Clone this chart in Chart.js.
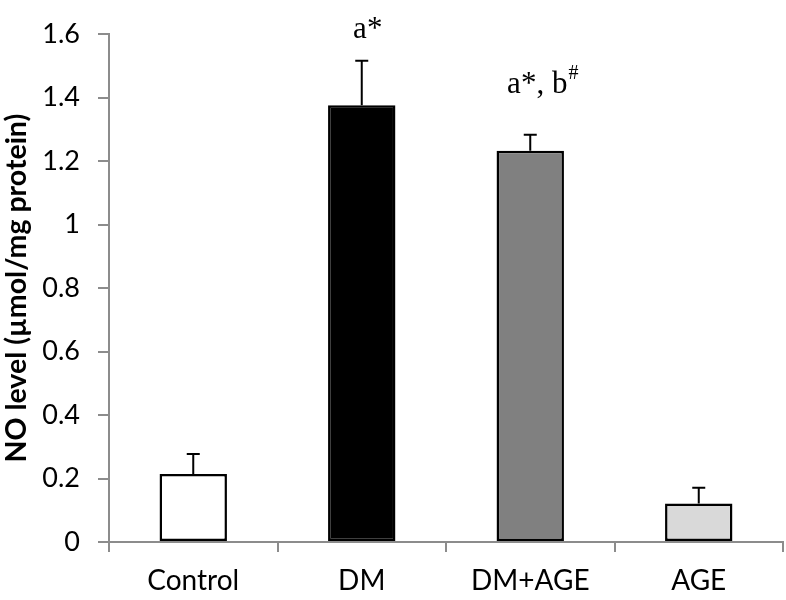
<!DOCTYPE html>
<html lang="en">
<head>
<meta charset="UTF-8" />
<title>NO level</title>
<script src="https://cdn.jsdelivr.net/npm/chart.js@4"></script>
<style>
  body { margin: 0; background: #fff; }
  canvas { display: block; }
</style>
</head>
<body>
<canvas id="chart" width="786" height="600"></canvas>
<script>
// data
const groups = ["Control", "DM", "DM+AGE", "AGE"];
const noLevel = [0.214, 1.376, 1.233, 0.121];
const noError = [0.063, 0.140, 0.050, 0.050];
const barColors = ["#ffffff", "#000000", "#808080", "#d9d9d9"];
const sigMain = ["", "a*", "a*, b", ""];
const sigSup = ["", "", "#", ""];
const yTicks = [0, 0.2, 0.4, 0.6, 0.8, 1, 1.2, 1.4, 1.6];

const axisGray = "#8c8c8c";
const sans = "Lato";

// error bars (upward only) drawn from the y scale
const errorBars = {
  id: "errorBars",
  afterDatasetsDraw(chart) {
    const ctx = chart.ctx;
    const y = chart.scales.y;
    const meta = chart.getDatasetMeta(0);
    ctx.save();
    ctx.strokeStyle = "#000";
    ctx.lineWidth = 2;
    meta.data.forEach((bar, i) => {
      const top = y.getPixelForValue(noLevel[i] + noError[i]);
      const base = y.getPixelForValue(noLevel[i]);
      ctx.beginPath();
      ctx.moveTo(bar.x, base);
      ctx.lineTo(bar.x, top);
      ctx.moveTo(bar.x - 6.5, top);
      ctx.lineTo(bar.x + 6.5, top);
      ctx.stroke();
    });
    ctx.restore();
  }
};

// significance letters above the error bars
const sigLabels = {
  id: "sigLabels",
  afterDatasetsDraw(chart, args, opts) {
    const ctx = chart.ctx;
    const y = chart.scales.y;
    const meta = chart.getDatasetMeta(0);
    ctx.save();
    ctx.fillStyle = "#000";
    ctx.textBaseline = "alphabetic";
    meta.data.forEach((bar, i) => {
      if (!sigMain[i]) return;
      ctx.font = "31px 'Liberation Serif', serif";
      const w1 = ctx.measureText(sigMain[i]).width;
      ctx.font = "20px 'Liberation Serif', serif";
      const w2 = sigSup[i] ? ctx.measureText(sigSup[i]).width : 0;
      const top = y.getPixelForValue(noLevel[i] + noError[i]);
      const baseY = top - opts.dy[i];
      const x0 = bar.x + opts.dx[i] - (w1 + w2) / 2;
      ctx.font = "31px 'Liberation Serif', serif";
      ctx.fillText(sigMain[i], x0, baseY);
      if (sigSup[i]) {
        ctx.font = "20px 'Liberation Serif', serif";
        ctx.fillText(sigSup[i], x0 + w1 + 1, baseY - 14);
      }
    });
    ctx.restore();
  }
};

new Chart(document.getElementById("chart"), {
  type: "bar",
  data: {
    labels: groups,
    datasets: [{
      data: noLevel,
      backgroundColor: barColors,
      borderColor: "#000",
      borderWidth: 2.5,
      borderSkipped: false,
      categoryPercentage: 1,
      barPercentage: 0.4
    }]
  },
  options: {
    responsive: false,
    animation: false,
    devicePixelRatio: 1,
    layout: { padding: { top: 26, right: 3, left: 0, bottom: 0 } },
    plugins: {
      legend: { display: false },
      tooltip: { enabled: false },
      sigLabels: { dx: [0, 6, 12, 0], dy: [0, 23, 42, 0] }
    },
    scales: {
      x: {
        grid: { offset: true, drawOnChartArea: false, tickLength: 10, color: axisGray, lineWidth: 2 },
        border: { color: axisGray, width: 2 },
        ticks: { color: "#000", font: { family: sans, size: 28 }, padding: 12 },
        afterFit(s) { s.height = 58; }
      },
      y: {
        min: 0,
        max: 1.6,
        afterBuildTicks(s) { s.ticks = yTicks.map(v => ({ value: v })); },
        grid: { drawOnChartArea: false, tickLength: 11, color: axisGray, lineWidth: 2 },
        border: { color: axisGray, width: 2 },
        ticks: {
          color: "#000",
          font: { family: sans, size: 27 },
          padding: 18,
          callback: v => String(Number(v.toFixed(1)))
        },
        title: {
          display: true,
          text: "NO level (µmol/mg protein)",
          color: "#000",
          font: { family: sans, size: 28.5, weight: "bold" },
          padding: { top: 0, bottom: 0 }
        },
        afterFit(s) { s.width = 109; }
      }
    }
  },
  plugins: [errorBars, sigLabels]
});
</script>
</body>
</html>
